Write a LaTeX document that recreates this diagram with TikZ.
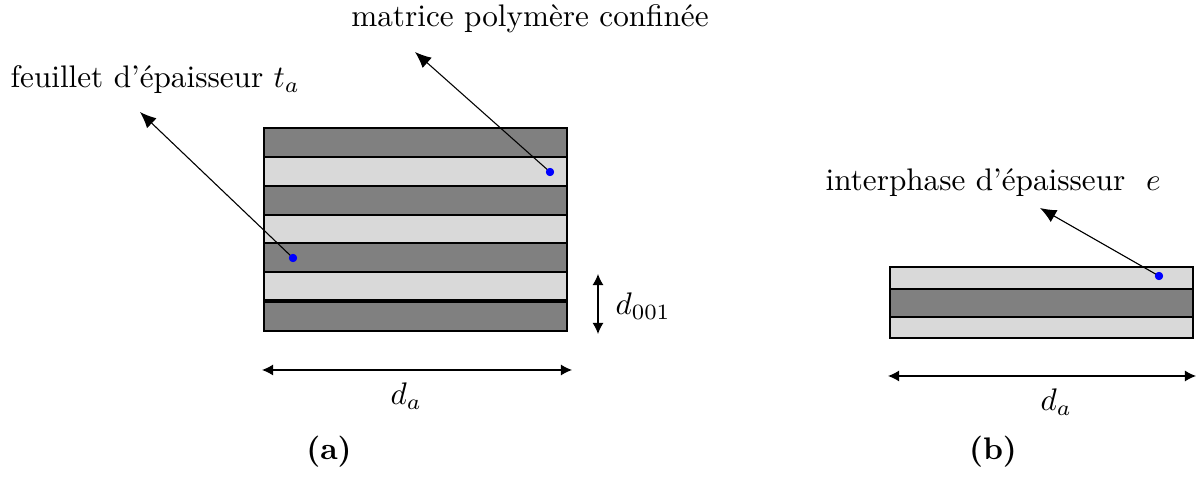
\documentclass[tikz,border=0pt]{standalone}
\usetikzlibrary{arrows.meta}
\begin{document}
\begin{tikzpicture}[x=0.3205pt,y=-0.3205pt,
  dark/.style={fill=black!50,draw=black,line width=0.4pt},
  light/.style={fill=black!15,draw=black,line width=0.4pt},
  dot/.style={circle,fill=blue,inner sep=0pt,minimum size=2.6pt},
  leader/.style={-{Latex[length=5.2pt,width=4.4pt]},line width=0.35pt},
  dimarrow/.style={{Latex[length=3.6pt,width=3.6pt]}-{Latex[length=3.6pt,width=3.6pt]},line width=0.4pt},
  lab/.style={inner sep=0pt}]
\useasboundingbox (0,0) rectangle (1198,478);
% left stack
\path[dark]  (264,128) rectangle (567,157);
\path[light] (264,157) rectangle (567,186);
\path[dark]  (264,186) rectangle (567,215);
\path[light] (264,215) rectangle (567,243);
\path[dark]  (264,243) rectangle (567,272);
\path[light] (264,272) rectangle (567,300);
\path[dark]  (264,302) rectangle (567,331);
% right stack
\path[light] (890,267) rectangle (1193,289);
\path[dark]  (890,289) rectangle (1193,317);
\path[light] (890,317) rectangle (1193,338);
% labels
\node[lab,anchor=base west] (lfeuillet) at (10,88) {feuillet d'épaisseur $t_a$};
\node[lab,anchor=base] (lmatrice) at (530,27) {matrice polymère confinée};
\node[lab,anchor=base west] (linter) at (825,191) {interphase d'épaisseur \ $e$};
\node[lab,anchor=base west] (ld001) at (615,315) {$d_{001}$};
\node[lab,anchor=base west] (lda1) at (390,405) {$d_a$};
\node[lab,anchor=base west] (lda2) at (1040,411) {$d_a$};
\node[lab,anchor=base] (la) at (329,460) {\textbf{(a)}};
\node[lab,anchor=base] (lb) at (993,460) {\textbf{(b)}};
% leader tips
\coordinate (t1) at (140,112);
\coordinate (t2) at (415,52);
\coordinate (t3) at (1040,208);
% dots
\node[dot] (d1) at (293,258) {};
\node[dot] (d2) at (550,172) {};
\node[dot] (d3) at (1159,276) {};
\draw[leader] (d1.center) -- (t1);
\draw[leader] (d2.center) -- (t2);
\draw[leader] (d3.center) -- (t3);
\node[dot] at (d1) {};
\node[dot] at (d2) {};
\node[dot] at (d3) {};
% dimension arrows
\coordinate (v1) at (598,274);
\coordinate (v2) at (598,334);
\draw[dimarrow] (v1) -- (v2);
\coordinate (h1) at (262,370);
\coordinate (h2) at (572,370);
\draw[dimarrow] (h1) -- (h2);
\coordinate (h3) at (888,376);
\coordinate (h4) at (1196,376);
\draw[dimarrow] (h3) -- (h4);
\end{tikzpicture}
\end{document}
